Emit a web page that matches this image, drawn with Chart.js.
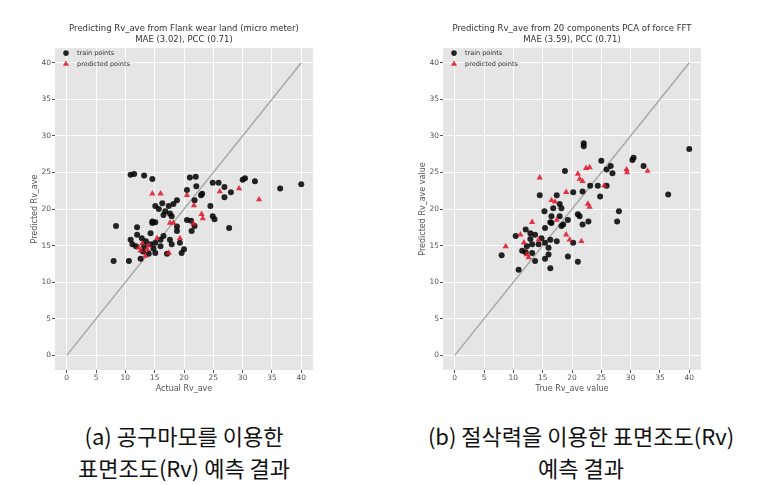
<!DOCTYPE html>
<html>
<head>
<meta charset="utf-8">
<script src="https://cdn.jsdelivr.net/npm/chart.js@4"></script>
<style>
  html, body { margin: 0; padding: 0; background: #fff; }
  #wrap { position: relative; width: 774px; height: 485px; overflow: hidden; }
  canvas { position: absolute; top: 0; }
  .cap { position: absolute; font-family: "Noto Sans CJK KR", sans-serif; font-size: 22px; line-height: 32px; color: #111; text-align: center; white-space: nowrap; }
</style>
</head>
<body>
<div id="wrap">
  <canvas id="c1" width="368" height="400" style="left:0px"></canvas>
  <canvas id="c2" width="368" height="400" style="left:388px"></canvas>
  <div class="cap" id="capA" style="left:0px; width:368px; top:419px;"></div>
  <div class="cap" id="capB" style="left:388px; width:386px; top:419px;"></div>
</div>
<script>
// ---- data ----
const tickValues = [0, 5, 10, 15, 20, 25, 30, 35, 40];
const diagonal = [[0, 0], [40, 40]];

const titleA = ["Predicting Rv_ave from Flank wear land (micro meter)", "MAE (3.02), PCC (0.71)"];
const titleB = ["Predicting Rv_ave from 20 components PCA of force FFT", "MAE (3.59), PCC (0.71)"];
const xLabelA = "Actual Rv_ave";
const yLabelA = "Predicted Rv_ave";
const xLabelB = "True Rv_ave value";
const yLabelB = "Predicted Rv_ave value";
const seriesNames = ["train points", "predicted points"];
const captionA = ["(a) 공구마모를 이용한", "표면조도(Rv) 예측 결과"];
const captionB = ["(b) 절삭력을 이용한 표면조도(Rv)", "예측 결과"];

const trainA = [
  [10.9,24.7],[11.5,24.8],[13.2,24.6],[14.6,24.1],[21.0,24.3],[22.0,24.4],[22.1,23.1],[24.9,23.6],
  [25.9,23.6],[26.9,23.0],[30.0,24.0],[30.4,24.2],[32.1,23.8],[36.4,22.8],[40.0,23.4],[28.0,22.3],
  [26.9,21.6],[20.5,22.6],[22.9,21.9],[23.1,22.1],[21.8,21.2],[18.8,21.2],[18.2,20.7],[17.4,20.4],
  [16.3,20.8],[15.1,20.4],[15.7,20.0],[16.8,19.7],[17.6,19.4],[16.5,19.2],[17.9,19.0],[24.5,20.4],
  [24.9,19.0],[25.2,18.6],[20.5,18.5],[21.2,18.4],[14.6,18.3],[15.1,18.2],[8.4,17.7],[12.0,17.5],
  [27.7,17.4],[21.8,17.7],[12.0,16.5],[14.3,16.7],[10.9,15.8],[11.2,15.2],[11.8,14.9],[13.2,14.9],
  [14.3,15.2],[15.1,15.4],[16.0,15.8],[16.5,16.3],[16.0,14.9],[15.1,14.0],[12.6,13.2],[10.6,12.9],
  [8.0,12.9],[14.0,13.9],[17.1,13.9],[19.6,14.0],[20.0,14.5],[18.8,17.0],[18.8,17.6],[19.3,15.4],
  [21.3,17.0],[17.6,15.8],[17.9,15.2],[14.6,18.1],[13.5,15.6],[12.8,16.0],[14.8,14.6],[13.0,14.2]
];
const predA = [
  [29.4,22.8],[26.1,22.4],[32.8,21.3],[14.6,22.1],[16.0,22.1],[20.5,21.9],[21.7,20.5],[23.0,19.3],
  [23.2,18.7],[17.6,18.1],[21.6,18.0],[12.3,14.7],[12.6,14.3],[13.7,14.5],[15.4,16.0],[13.4,13.6],
  [17.4,14.0],[19.3,16.0],[18.2,18.1],[12.9,15.3],[14.0,15.0]
];
const trainB = [
  [40.0,28.2],[22.0,29.0],[22.0,28.6],[30.5,27.0],[30.3,26.7],[25.0,26.6],[26.6,25.9],[25.9,25.4],
  [26.9,24.9],[32.2,25.9],[18.8,25.2],[23.1,23.2],[24.4,23.2],[25.9,23.2],[24.8,21.7],[36.4,22.0],
  [20.2,22.3],[21.8,22.4],[14.5,21.9],[17.4,21.9],[17.9,20.7],[15.3,19.7],[16.8,20.1],[18.2,20.1],
  [21.0,19.3],[21.3,19.0],[28.0,19.7],[27.7,18.3],[16.5,19.0],[17.9,19.0],[19.3,18.5],[16.3,18.2],
  [18.5,17.9],[21.8,17.9],[22.8,18.3],[10.4,16.3],[12.1,17.2],[12.9,16.7],[13.7,16.5],[15.4,17.4],
  [16.5,18.1],[18.2,17.7],[20.2,15.4],[16.3,15.8],[17.4,15.6],[15.4,15.4],[14.3,15.2],[13.2,15.2],
  [12.3,14.9],[8.0,13.7],[11.5,14.3],[12.1,14.1],[13.2,14.0],[13.7,12.9],[15.4,13.2],[16.0,13.8],
  [16.3,11.9],[10.9,11.7],[19.3,13.5],[21.0,12.8],[16.0,14.7],[14.8,16.0],[12.9,15.9]
];
const predB = [
  [32.9,25.2],[29.3,25.4],[29.4,25.0],[22.4,25.6],[23.0,25.7],[21.0,24.8],[21.3,24.1],[21.8,23.8],
  [14.5,24.3],[25.5,23.2],[19.0,22.3],[16.5,21.2],[17.1,21.0],[22.7,20.7],[23.0,20.3],[17.4,18.5],
  [13.2,18.2],[11.2,16.5],[19.0,16.5],[19.6,15.8],[21.6,15.6],[11.8,15.4],[8.7,14.9],[12.3,13.8],
  [12.6,13.4],[14.3,15.8]
];

// ---- styling / chart setup ----
const FONT = "DejaVu Sans";
const toXY = arr => arr.map(p => ({x: p[0], y: p[1]}));

const bgPlugin = {
  id: 'plotBg',
  beforeDraw(chart) {
    const {ctx, chartArea: a} = chart;
    ctx.save();
    ctx.fillStyle = '#E5E5E5';
    ctx.fillRect(a.left, a.top, a.right - a.left, a.bottom - a.top);
    ctx.restore();
  }
};

const legendPlugin = {
  id: 'innerLegend',
  afterDraw(chart) {
    const {ctx, chartArea: a} = chart;
    const x0 = a.left + 11, y0 = a.top + 5, gap = 10.5;
    ctx.save();
    chart.data.datasets.forEach((ds, i) => {
      if (ds.hideInLegend) return;
      const y = y0 + i * gap;
      ctx.fillStyle = ds.backgroundColor;
      ctx.beginPath();
      if (ds.pointStyle === 'triangle') {
        const r = 3.2;
        ctx.moveTo(x0, y - r);
        ctx.lineTo(x0 + r * 0.95, y + r * 0.7);
        ctx.lineTo(x0 - r * 0.95, y + r * 0.7);
        ctx.closePath();
      } else {
        ctx.arc(x0, y, 2.8, 0, Math.PI * 2);
      }
      ctx.fill();
      ctx.fillStyle = '#333';
      ctx.font = '6.5px "' + FONT + '"';
      ctx.textBaseline = 'middle';
      ctx.textAlign = 'left';
      ctx.fillText(ds.label, x0 + 11, y + 0.5);
    });
    ctx.restore();
  }
};

function axis(titleText, isX) {
  return {
    type: 'linear',
    min: -2, max: 42,
    afterBuildTicks: s => { s.ticks = tickValues.map(v => ({value: v})); },
    afterFit: s => { if (isX) s.height = 30; else s.width = 55; },
    border: {display: false},
    grid: {color: '#FFFFFF', lineWidth: 1, tickColor: '#555555', tickLength: 3, drawTicks: true},
    ticks: {font: {family: FONT, size: 7.5}, color: '#555555', padding: 1, maxRotation: 0, autoSkip: false},
    title: {
      display: true, text: titleText, color: '#555555',
      font: {family: FONT, size: 8},
      padding: isX ? {top: 0, bottom: 6} : {top: 30, bottom: 0}
    }
  };
}

function makeChart(id, title, xl, yl, train, pred) {
  return new Chart(document.getElementById(id), {
    type: 'scatter',
    data: {
      datasets: [
        {label: seriesNames[0], data: toXY(train), backgroundColor: 'rgba(0,0,0,0.85)', borderWidth: 0,
         pointStyle: 'circle', pointRadius: 3, order: 1},
        {label: seriesNames[1], data: toXY(pred), backgroundColor: 'rgba(226,20,40,0.85)', borderWidth: 0,
         pointStyle: 'triangle', pointRadius: 3.6, order: 0},
        {label: 'diag', hideInLegend: true, data: toXY(diagonal), showLine: true, borderColor: '#A8A8A8',
         borderWidth: 1.5, pointRadius: 0, order: 2}
      ]
    },
    options: {
      responsive: false, animation: false, devicePixelRatio: 1,
      layout: {padding: {left: 0, right: 55, top: 0, bottom: 0}},
      plugins: {
        legend: {display: false},
        tooltip: {enabled: false},
        title: {display: true, fullSize: false, text: title, color: '#333333',
                font: {family: FONT, size: 8.5, weight: 'normal', lineHeight: 1.3},
                padding: {top: 23, bottom: 3}}
      },
      scales: {x: axis(xl, true), y: axis(yl, false)}
    },
    plugins: [bgPlugin, legendPlugin]
  });
}

makeChart('c1', titleA, xLabelA, yLabelA, trainA, predA);
makeChart('c2', titleB, xLabelB, yLabelB, trainB, predB);

document.getElementById('capA').innerHTML = captionA.join('<br>');
document.getElementById('capB').innerHTML = captionB.join('<br>');
</script>
</body>
</html>
